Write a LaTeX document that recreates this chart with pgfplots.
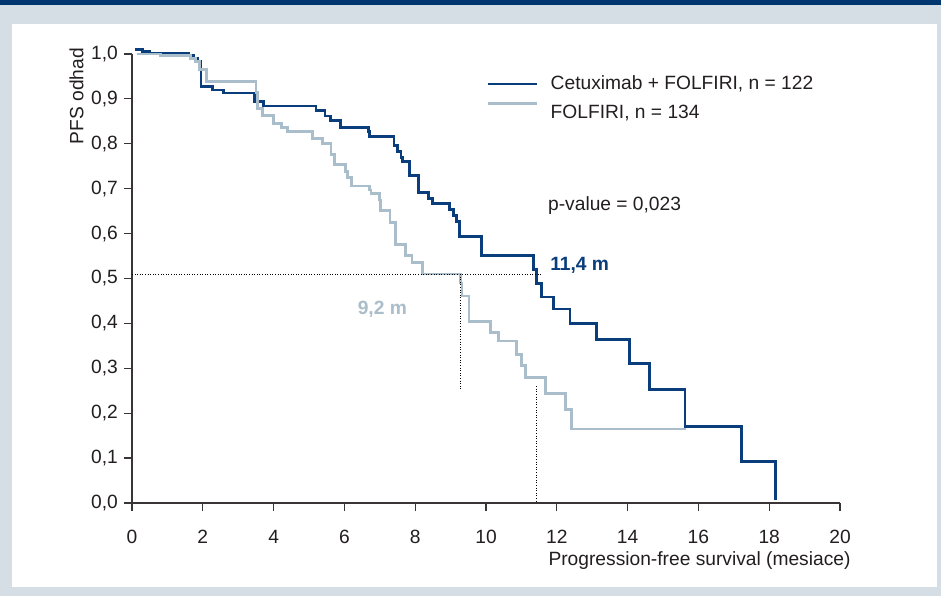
\documentclass[border=0pt]{standalone}
\usepackage{fontspec}
\setmainfont{Liberation Sans}
\usepackage{pgfplots}
\pgfplotsset{compat=1.18}
\definecolor{navy}{HTML}{00366F}
\definecolor{bgc}{HTML}{D5DEE5}
\definecolor{darkc}{HTML}{0A3D7C}
\definecolor{lightc}{HTML}{AABDCA}
\definecolor{txt}{HTML}{231F20}
\newcommand{\ff}{\fontsize{19.2pt}{23pt}\selectfont}
\pgfplotsset{lightleg/.style={legend image code/.code={\draw[##1] (0pt,9pt) -- (49pt,9pt);}}}
\begin{document}
\begin{tikzpicture}
\useasboundingbox (0pt,0pt) rectangle (941pt,596pt);
\fill[bgc] (0pt,0pt) rectangle (941pt,596pt);
\fill[navy] (0pt,591pt) rectangle (941pt,596pt);
\fill[white] (12pt,9pt) rectangle (937pt,572pt);
\begin{axis}[
  at={(132pt,93pt)}, anchor=south west,
  scale only axis, width=708pt, height=449pt,
  xmin=0, xmax=20, ymin=0, ymax=1,
  axis x line*=bottom, axis y line*=left,
  axis line style={color=txt!90, line width=1.2pt},
  xtick={0,2,...,20},
  ytick={0,0.1,0.2,0.3,0.4,0.5,0.6,0.7,0.8,0.9,1.0},
  tick align=outside, major tick length=8pt,
  tick style={color=txt!90, line width=1.2pt},
  clip=false,
  yticklabel style={font=\ff, text=txt, anchor=east, inner sep=0pt, xshift=-6pt,
    /pgf/number format/.cd, fixed, fixed zerofill, precision=1, use comma, assume math mode=true},
  xticklabel style={font=\ff, text=txt, anchor=base, inner sep=0pt, yshift=-32pt,
    /pgf/number format/assume math mode=true},
  xlabel={Progression-free survival (mesiace)},
  ylabel={PFS odhad},
  x label style={font=\ff, text=txt, inner sep=0pt, anchor=base east, at={(axis description cs:1.0151,-0.1403)}},
  y label style={font=\ff, text=txt, inner sep=0pt, anchor=base east, at={(axis description cs:-0.0688,1.0134)}},
  legend style={draw=none, fill=none, at={(axis cs:10.02,0.953)}, anchor=north west,
    inner sep=0pt, font=\ff, text=txt, row sep=11pt, nodes={inner sep=0pt},
    /tikz/every odd column/.append style={column sep=12pt}},
  legend cell align=left,
  legend image code/.code={\draw[#1] (0pt,-1pt) -- (49pt,-1pt);},
]
\addplot[const plot, color=darkc, line width=2.8pt] coordinates {
(0.08,1.010) (0.30,1.006) (0.50,1.002) (1.60,0.997) (1.75,0.990) (1.85,0.983)
(1.95,0.927) (2.28,0.920) (2.58,0.913) (3.46,0.895) (3.71,0.884) (5.20,0.875)
(5.45,0.862) (5.60,0.852) (5.88,0.837) (6.68,0.828) (6.72,0.817) (7.40,0.796)
(7.50,0.782) (7.60,0.770) (7.65,0.760) (7.85,0.730) (8.09,0.692) (8.37,0.679)
(8.49,0.667) (8.96,0.653) (9.08,0.640) (9.17,0.627) (9.25,0.593) (9.88,0.551)
(11.34,0.520) (11.43,0.489) (11.57,0.459) (11.90,0.432) (12.37,0.400) (13.13,0.364)
(14.05,0.311) (14.61,0.253) (15.62,0.171) (17.22,0.092) (18.18,0.007)
};
\addlegendentry{Cetuximab + FOLFIRI, n = 122}
\addplot[const plot, color=lightc, line width=2.8pt, lightleg] coordinates {
(0.13,1.000) (0.80,0.996) (1.65,0.990) (1.80,0.983) (1.90,0.966) (2.11,0.938)
(3.50,0.914) (3.55,0.879) (3.68,0.863) (3.99,0.846) (4.23,0.837) (4.40,0.828)
(5.09,0.811) (5.39,0.801) (5.62,0.777) (5.73,0.754) (6.02,0.738) (6.08,0.725)
(6.19,0.706) (6.70,0.697) (6.75,0.689) (6.99,0.675) (7.02,0.652) (7.29,0.625)
(7.44,0.575) (7.72,0.552) (7.91,0.536) (8.21,0.510) (9.27,0.490) (9.32,0.461)
(9.52,0.405) (10.13,0.379) (10.36,0.361) (10.87,0.331) (11.01,0.307) (11.11,0.279)
(11.69,0.244) (12.25,0.209) (12.41,0.165) (15.64,0.165)
};
\addlegendentry{FOLFIRI, n = 134}
\addplot[black, line width=0.9pt, dash pattern=on 1pt off 1.6pt, forget plot] coordinates {(0,0.51) (11.59,0.51)};
\addplot[black, line width=0.9pt, dash pattern=on 1pt off 1.6pt, forget plot] coordinates {(9.27,0.51) (9.27,0.255)};
\addplot[black, line width=0.9pt, dash pattern=on 1pt off 1.6pt, forget plot] coordinates {(11.43,0.26) (11.43,0.0)};
\node[anchor=base west, inner sep=0pt, font=\ff, text=txt] at (axis cs:11.75,0.651) {p-value = 0,023};
\node[anchor=base west, inner sep=0pt, font=\ff\bfseries, text=darkc] at (axis cs:11.81,0.5175) {11,4 m};
\node[anchor=base east, inner sep=0pt, font=\ff\bfseries, text=lightc] at (axis cs:7.77,0.419) {9,2 m};
\end{axis}
\end{tikzpicture}
\end{document}
